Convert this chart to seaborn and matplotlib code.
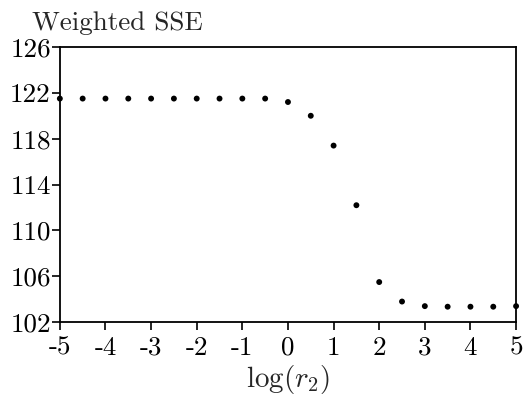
import seaborn as sns
import matplotlib.pyplot as plt
import pandas as pd

# log(r2) grid and weighted SSE
log_r2 = [-5, -4.5, -4, -3.5, -3, -2.5, -2, -1.5, -1, -0.5,
          0, 0.5, 1, 1.5, 2, 2.5, 3, 3.5, 4, 4.5, 5]
sse = [121.5, 121.5, 121.5, 121.5, 121.5, 121.5, 121.5, 121.5, 121.5, 121.5,
       121.2, 120.0, 117.4, 112.2, 105.5, 103.8, 103.4, 103.35, 103.35, 103.35, 103.4]
x_ticks = [-5, -4, -3, -2, -1, 0, 1, 2, 3, 4, 5]
y_ticks = [102, 106, 110, 114, 118, 122, 126]

df = pd.DataFrame({'log_r2': log_r2, 'sse': sse})

sns.set_style('ticks')
plt.rcParams['font.family'] = ['cmr10', 'DejaVu Serif']
plt.rcParams['mathtext.fontset'] = 'cm'
plt.rcParams['axes.unicode_minus'] = False
plt.rcParams['axes.formatter.use_mathtext'] = True

fig = plt.figure(figsize=(5.25, 4.12), dpi=100)
ax = fig.add_axes([0.114, 0.218, 0.869, 0.668])

sns.scatterplot(data=df, x='log_r2', y='sse', ax=ax, color='black',
                s=18, edgecolor='none', clip_on=False)

ax.set_xlim(-5, 5)
ax.set_ylim(102, 126)
ax.set_xticks(x_ticks)
ax.set_xticklabels([str(t) for t in x_ticks])
ax.set_yticks(y_ticks)
ax.set_yticklabels([str(t) for t in y_ticks])
ax.tick_params(direction='out', length=6, width=1.2, labelsize=19.5, colors='black')
ax.tick_params(axis='x', pad=4)
ax.tick_params(axis='y', pad=0.5)
for s in ax.spines.values():
    s.set_visible(True)
    s.set_linewidth(1.3)
    s.set_color('black')

ax.set_xlabel(r'$\log(r_2)$', fontsize=21, labelpad=2)
ax.set_ylabel('')
fig.text(0.061, 0.927, 'Weighted SSE', fontsize=19.5, ha='left', va='baseline')

fig.savefig('out.png', dpi=100)
